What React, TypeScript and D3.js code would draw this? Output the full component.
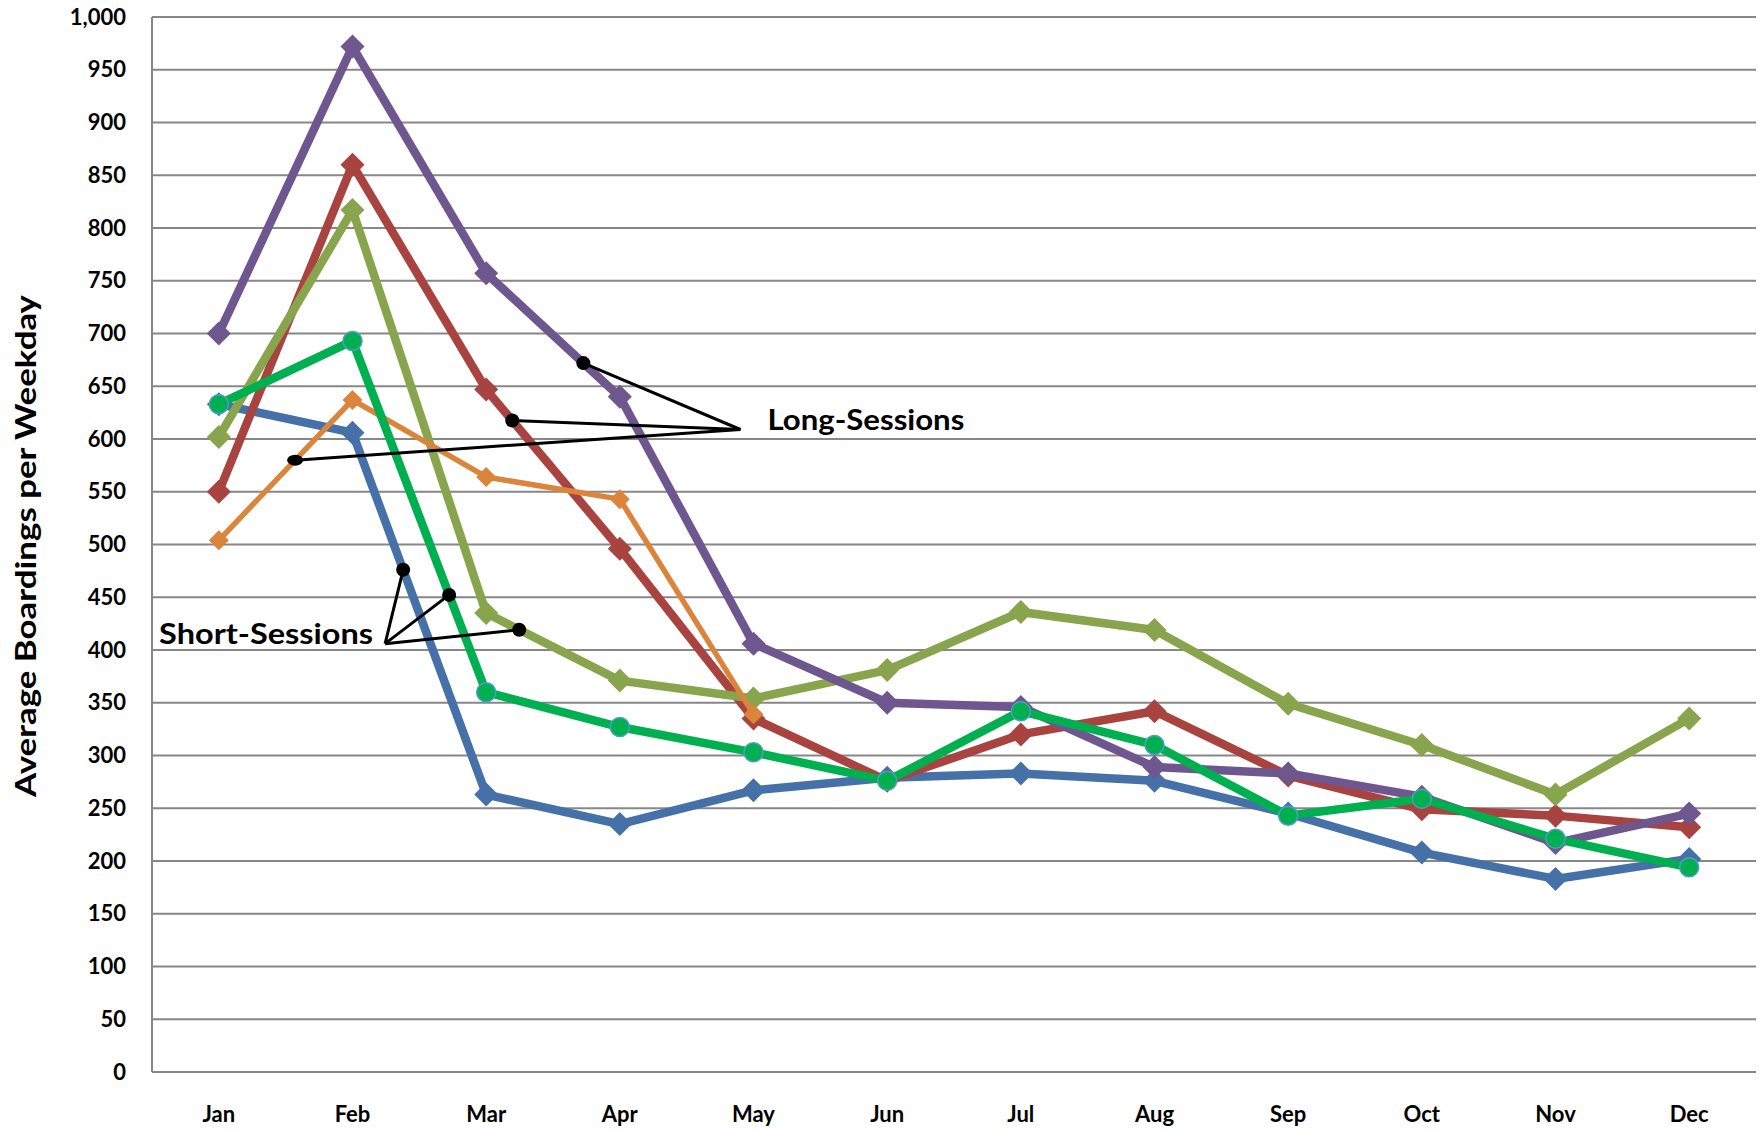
import React from 'react';
import * as d3 from 'd3';

const months = ['Jan', 'Feb', 'Mar', 'Apr', 'May', 'Jun', 'Jul', 'Aug', 'Sep', 'Oct', 'Nov', 'Dec'];
const yTicks = [0, 50, 100, 150, 200, 250, 300, 350, 400, 450, 500, 550, 600, 650, 700, 750, 800, 850, 900, 950, 1000];

const seriesBlue = [633, 606, 263, 235, 267, 279, 283, 276, 245, 208, 183, 202];
const seriesRed = [550, 860, 647, 496, 335, 276, 320, 342, 281, 249, 243, 232];
const seriesOlive = [602, 817, 435, 371, 354, 381, 436, 419, 349, 310, 263, 335];
const seriesPurple = [700, 972, 757, 640, 406, 350, 346, 289, 283, 261, 217, 245];
const seriesOrange = [504, 637, 564, 543, 339];
const seriesGreen = [633, 693, 360, 327, 303, 276, 342, 310, 243, 259, 221, 194];

// annotation anchors: series + fractional month position along the line
const longDots = [
  { series: 'purple', t: 2.727 },
  { series: 'red', t: 2.195 },
  { series: 'orange', t: 0.571 },
];
const longApex = { t: 3.902, v: 609 };
const shortDots = [
  { series: 'blue', t: 1.379 },
  { series: 'green', t: 1.723 },
  { series: 'olive', t: 2.247 },
];
const shortApex = { t: 1.244, v: 406 };

const styles: Record<string, { color: string; width: number; marker: 'diamond' | 'circle'; r: number }> = {
  blue: { color: '#4571A8', width: 8.5, marker: 'diamond', r: 12 },
  red: { color: '#A8433F', width: 8.5, marker: 'diamond', r: 12 },
  olive: { color: '#88A44C', width: 8.5, marker: 'diamond', r: 12 },
  purple: { color: '#6E568E', width: 8.5, marker: 'diamond', r: 12 },
  orange: { color: '#DA843C', width: 5.5, marker: 'diamond', r: 10 },
  green: { color: '#00B050', width: 8.5, marker: 'circle', r: 9.5 },
};

const seriesData: Record<string, number[]> = {
  blue: seriesBlue,
  red: seriesRed,
  olive: seriesOlive,
  purple: seriesPurple,
  orange: seriesOrange,
  green: seriesGreen,
};
const drawOrder = ['blue', 'red', 'olive', 'purple', 'orange', 'green'];

const W = 1764;
const H = 1131;
const plotLeft = 152;
const plotRight = 1756;
const plotTop = 17;
const plotBottom = 1072;

export default function App() {
  const x = d3.scaleBand<string>().domain(months).range([plotLeft, plotRight]);
  const bw = x.bandwidth();
  const xc = (i: number) => plotLeft + (i + 0.5) * bw;
  const y = d3.scaleLinear().domain([0, 1000]).range([plotBottom, plotTop]);

  const line = d3
    .line<number>()
    .x((_, i) => (x(months[i]) as number) + bw / 2)
    .y((d) => y(d));

  const interp = (name: string, t: number) => {
    const arr = seriesData[name];
    const i0 = Math.floor(t);
    const f = t - i0;
    const v = arr[i0] + f * (arr[i0 + 1] - arr[i0]);
    return [xc(t), y(v)];
  };

  const diamond = (r: number) => `M0,${-r}L${r},0L0,${r}L${-r},0Z`;
  const font = 'Lato, "Open Sans", sans-serif';
  const gridColor = '#878787';

  const longA = [xc(longApex.t), y(longApex.v)];
  const shortA = [xc(shortApex.t), y(shortApex.v)];

  return (
    <svg width={W} height={H} style={{ position: 'absolute', left: 0, top: 0, background: '#fff' }}>
      <rect x={0} y={0} width={W} height={H} fill="#fff" />
      {/* gridlines */}
      {yTicks.map((t) => (
        <line key={t} x1={plotLeft} x2={plotRight} y1={y(t)} y2={y(t)} stroke={gridColor} strokeWidth={2} />
      ))}
      <line x1={plotLeft} x2={plotLeft} y1={plotTop} y2={plotBottom} stroke={gridColor} strokeWidth={2} />
      {/* y tick labels */}
      {yTicks.map((t) => (
        <text
          key={'l' + t}
          x={126}
          y={y(t)}
          dy="0.35em"
          textAnchor="end"
          fontFamily={font}
          fontWeight="bold"
          fontSize={22}
          fill="#000"
        >
          {d3.format(',')(t)}
        </text>
      ))}
      {/* x labels */}
      {months.map((m) => (
        <text
          key={m}
          x={(x(m) as number) + bw / 2}
          y={1122}
          textAnchor="middle"
          fontFamily={font}
          fontWeight="bold"
          fontSize={22}
          fill="#000"
        >
          {m}
        </text>
      ))}
      {/* y title */}
      <text
        transform={`translate(36,546) rotate(-90)`}
        textAnchor="middle"
        fontFamily={font}
        fontWeight="bold"
        fontSize={28}
        textLength={502}
        lengthAdjust="spacingAndGlyphs"
        fill="#000"
      >
        Average Boardings per Weekday
      </text>
      {/* series */}
      {drawOrder.map((name) => {
        const s = styles[name];
        const data = seriesData[name];
        return (
          <g key={name}>
            <path d={line(data) || ''} fill="none" stroke={s.color} strokeWidth={s.width} strokeLinejoin="round" />
            {data.map((v, i) =>
              s.marker === 'diamond' ? (
                <path
                  key={i}
                  d={diamond(s.r)}
                  transform={`translate(${(x(months[i]) as number) + bw / 2},${y(v)})`}
                  fill={s.color}
                />
              ) : (
                <circle
                  key={i}
                  cx={(x(months[i]) as number) + bw / 2}
                  cy={y(v)}
                  r={s.r}
                  fill={s.color}
                  stroke="#4F9CC8"
                  strokeWidth={1.5}
                />
              )
            )}
          </g>
        );
      })}
      {/* annotations: long sessions */}
      {longDots.map((d, i) => {
        const [px, py] = interp(d.series, d.t);
        return (
          <g key={'ld' + i}>
            <line x1={longA[0]} y1={longA[1]} x2={px} y2={py} stroke="#000" strokeWidth={3} />
            {d.series === 'orange' ? (
              <ellipse cx={px} cy={py} rx={8} ry={5.5} fill="#000" />
            ) : (
              <circle cx={px} cy={py} r={7} fill="#000" />
            )}
          </g>
        );
      })}
      <text
        x={longA[0] + 27}
        y={longA[1]}
        fontFamily={font}
        fontWeight="bold"
        fontSize={29}
        textLength={197}
        lengthAdjust="spacingAndGlyphs"
        fill="#000"
      >
        Long-Sessions
      </text>
      {/* annotations: short sessions */}
      {shortDots.map((d, i) => {
        const [px, py] = interp(d.series, d.t);
        return (
          <g key={'sd' + i}>
            <line x1={shortA[0]} y1={shortA[1]} x2={px} y2={py} stroke="#000" strokeWidth={3} />
            <circle cx={px} cy={py} r={7} fill="#000" />
          </g>
        );
      })}
      <text
        x={shortA[0] - 12}
        y={shortA[1]}
        textAnchor="end"
        fontFamily={font}
        fontWeight="bold"
        fontSize={29}
        textLength={214}
        lengthAdjust="spacingAndGlyphs"
        fill="#000"
      >
        Short-Sessions
      </text>
    </svg>
  );
}
